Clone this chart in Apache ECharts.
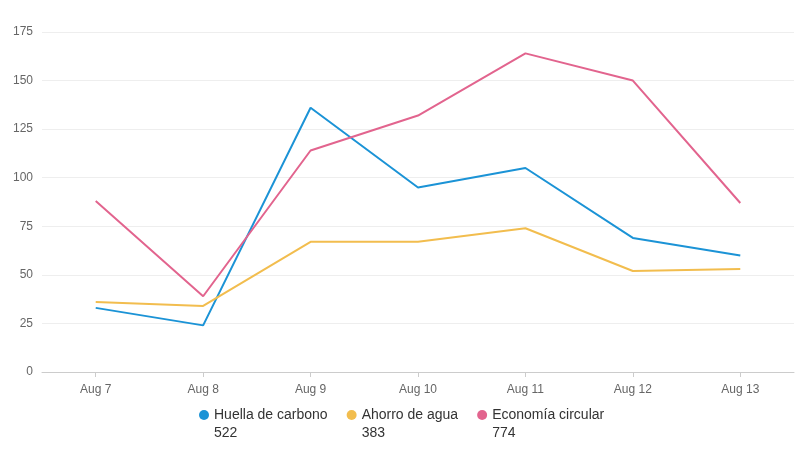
<!DOCTYPE html>
<html><head><meta charset="utf-8">
<script src="https://cdn.jsdelivr.net/npm/echarts@6/dist/echarts.min.js"></script>
<style>html,body{margin:0;padding:0;background:#fff}#c{width:800px;height:455px}</style>
</head><body><div id="c"></div>
<script>
const categories = ['Aug 7','Aug 8','Aug 9','Aug 10','Aug 11','Aug 12','Aug 13'];
const seriesNames = ['Huella de carbono','Ahorro de agua','Economía circular'];
const huella = [33,24,136,95,105,69,60];
const ahorro = [36,34,67,67,74,52,53];
const economia = [88,39,114,132,164,150,87];
const colors = ['#1b93d6','#f2bd4e','#e2648e'];
const allData = [huella, ahorro, economia];
const totals = {};
seriesNames.forEach((n,i)=>{ totals[n] = allData[i].reduce((a,b)=>a+b,0); });

const chart = echarts.init(document.getElementById('c'));
chart.setOption({
  animation:false,
  color: colors,
  grid:{left:42,right:6,top:32,bottom:83},
  legend:{
    top:383, left:194, icon:'circle', itemWidth:10, itemHeight:10, itemGap:19,
    data: seriesNames,
    formatter: n => '\n' + n + '\n' + totals[n],
    textStyle:{color:'#333', fontSize:14, fontFamily:'Arial, Liberation Sans, sans-serif', lineHeight:18}
  },
  xAxis:{
    type:'category', data:categories, boundaryGap:true,
    axisLine:{lineStyle:{color:'#ccc'}},
    axisTick:{show:true, alignWithLabel:true, lineStyle:{color:'#ccc'}},
    axisLabel:{color:'#666', fontSize:12, margin:12, fontFamily:'Arial, Liberation Sans, sans-serif'}
  },
  yAxis:{
    type:'value', min:0, max:175, interval:25,
    axisLine:{show:false}, axisTick:{show:false},
    splitLine:{lineStyle:{color:'#eee'}},
    axisLabel:{color:'#666', fontSize:12, margin:9, fontFamily:'Arial, Liberation Sans, sans-serif'}
  },
  series: seriesNames.map((n,i)=>({
    name:n, type:'line', data:allData[i], showSymbol:false, symbol:'none',
    lineStyle:{width:2, color:colors[i]}, itemStyle:{color:colors[i]}
  }))
});
</script></body></html>
